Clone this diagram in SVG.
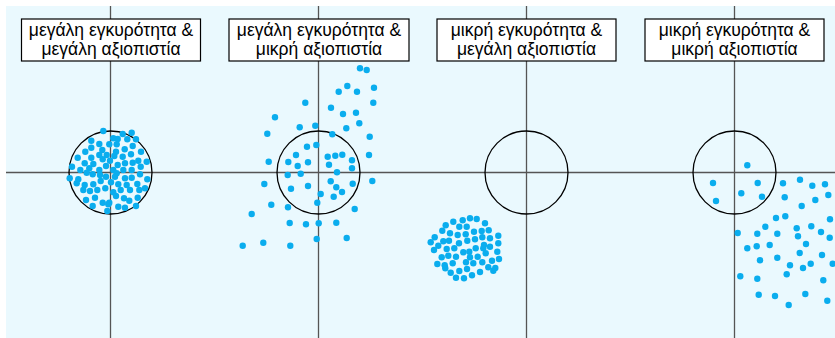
<svg xmlns="http://www.w3.org/2000/svg" xmlns:xlink="http://www.w3.org/1999/xlink" width="835" height="338" viewBox="0 0 835 338">
<style>
.bg{fill:#EAF9FE}
.ax{stroke:#555;stroke-width:1.3;fill:none}
.ring{stroke:#000;stroke-width:1.3;fill:none}
.box{fill:#fff;stroke:#000;stroke-width:1.2}
.lbl{font-family:"Liberation Sans",Arial,sans-serif;font-size:17.5px;fill:#000;text-anchor:middle}
.dots use{fill:#0AADEE}
</style>
<defs><circle id="p" r="3.2"/></defs>
<rect class="bg" x="6" y="6" width="829" height="332"/>
<g id="connectors">
<line class="ax" x1="6" y1="172.5" x2="835" y2="172.5"/>
<line class="ax" x1="110.5" y1="6" x2="110.5" y2="338"/>
<line class="ax" x1="318.5" y1="6" x2="318.5" y2="338"/>
<line class="ax" x1="526.5" y1="6" x2="526.5" y2="338"/>
<line class="ax" x1="734.5" y1="6" x2="734.5" y2="338"/>
</g>
<g id="panel1">
<circle class="ring" cx="110.5" cy="172.5" r="41.5"/>
<g class="dots">
<use href="#p" x="103.3" y="131"/><use href="#p" x="113.3" y="138.3"/><use href="#p" x="117.7" y="139"/><use href="#p" x="122.7" y="134"/><use href="#p" x="131.7" y="132.7"/>
<use href="#p" x="91.3" y="140.7"/><use href="#p" x="99.3" y="144"/><use href="#p" x="109.3" y="144.3"/><use href="#p" x="116.7" y="144.3"/><use href="#p" x="127.3" y="139.3"/><use href="#p" x="136" y="139.3"/>
<use href="#p" x="85.3" y="151.7"/><use href="#p" x="91.3" y="147.7"/><use href="#p" x="102.3" y="150"/><use href="#p" x="116" y="151.7"/><use href="#p" x="124.7" y="149.3"/><use href="#p" x="132.7" y="146"/><use href="#p" x="141" y="151.7"/>
<use href="#p" x="77.7" y="157.7"/><use href="#p" x="99.3" y="155"/><use href="#p" x="106.7" y="155"/><use href="#p" x="114.3" y="156"/><use href="#p" x="122.7" y="156.7"/><use href="#p" x="131" y="154.3"/><use href="#p" x="138.3" y="160.7"/><use href="#p" x="146.7" y="161.7"/>
<use href="#p" x="84.7" y="163.3"/><use href="#p" x="91.3" y="157.7"/><use href="#p" x="93.3" y="164"/><use href="#p" x="102.7" y="159.3"/><use href="#p" x="110" y="160.7"/><use href="#p" x="117.7" y="165"/><use href="#p" x="125" y="163.3"/><use href="#p" x="132.7" y="162.7"/>
<use href="#p" x="72" y="166.7"/><use href="#p" x="80.3" y="170"/><use href="#p" x="89.3" y="168.3"/><use href="#p" x="99.3" y="170"/><use href="#p" x="106" y="166"/><use href="#p" x="113.3" y="170"/><use href="#p" x="116.7" y="173.3"/><use href="#p" x="123.3" y="170"/><use href="#p" x="131.7" y="170"/><use href="#p" x="140.7" y="166.7"/>
<use href="#p" x="69.7" y="178.3"/><use href="#p" x="78.3" y="179.3"/><use href="#p" x="86.7" y="172.7"/><use href="#p" x="92.7" y="174.3"/><use href="#p" x="100" y="175"/><use href="#p" x="106" y="176.7"/><use href="#p" x="115" y="176.7"/><use href="#p" x="125" y="178.3"/><use href="#p" x="131.7" y="177.7"/><use href="#p" x="140" y="174.3"/><use href="#p" x="147.3" y="179.3"/>
<use href="#p" x="76.7" y="183.3"/><use href="#p" x="84.7" y="185"/><use href="#p" x="93.3" y="184.3"/><use href="#p" x="100.7" y="181"/><use href="#p" x="111" y="182.3"/><use href="#p" x="118.3" y="184.3"/><use href="#p" x="126.7" y="185"/><use href="#p" x="137.3" y="184"/>
<use href="#p" x="83.3" y="190"/><use href="#p" x="90" y="191"/><use href="#p" x="97.3" y="190"/><use href="#p" x="105.3" y="188.3"/><use href="#p" x="113.3" y="192.3"/><use href="#p" x="120.7" y="190"/><use href="#p" x="130" y="190"/><use href="#p" x="139.3" y="190"/><use href="#p" x="145" y="188.3"/>
<use href="#p" x="86" y="200"/><use href="#p" x="95" y="197.7"/><use href="#p" x="102.7" y="202.7"/><use href="#p" x="109.3" y="202.7"/><use href="#p" x="116" y="196"/><use href="#p" x="124" y="198.3"/><use href="#p" x="129.3" y="200.7"/><use href="#p" x="137.7" y="197.7"/>
<use href="#p" x="92.7" y="206"/><use href="#p" x="108.3" y="204.3"/><use href="#p" x="118.3" y="206.7"/><use href="#p" x="125" y="207.7"/><use href="#p" x="136" y="206"/><use href="#p" x="107.3" y="211"/>
</g>
<rect class="box" x="21.5" y="19" width="179" height="42"/>
<text class="lbl" x="111" y="35.5">μεγάλη εγκυρότητα &amp;</text>
<text class="lbl" x="111" y="54.5">μεγάλη αξιοπιστία</text>
</g>
<g id="panel2">
<circle class="ring" cx="318.5" cy="172.5" r="41.5"/>
<g class="dots">
<use href="#p" x="360" y="68.3"/><use href="#p" x="366.7" y="70"/><use href="#p" x="347.3" y="86"/><use href="#p" x="338.7" y="91.7"/><use href="#p" x="357" y="91.7"/><use href="#p" x="374" y="87.7"/>
<use href="#p" x="373.3" y="102.7"/><use href="#p" x="305.3" y="102.7"/><use href="#p" x="331" y="107.7"/><use href="#p" x="343" y="114"/><use href="#p" x="356" y="112.7"/><use href="#p" x="275" y="117.3"/>
<use href="#p" x="359.3" y="123.3"/><use href="#p" x="299.7" y="127.3"/><use href="#p" x="315.3" y="125.7"/><use href="#p" x="346.3" y="128.3"/><use href="#p" x="267.3" y="133.7"/><use href="#p" x="332.3" y="134.3"/><use href="#p" x="369.7" y="136.7"/>
<use href="#p" x="307" y="146.7"/><use href="#p" x="316.3" y="145"/><use href="#p" x="296" y="155"/><use href="#p" x="327.7" y="156.7"/><use href="#p" x="335.3" y="155.7"/><use href="#p" x="342.3" y="154.7"/><use href="#p" x="369" y="155"/>
<use href="#p" x="268.7" y="161.7"/><use href="#p" x="288.3" y="162"/><use href="#p" x="308" y="162.3"/><use href="#p" x="297.7" y="166"/><use href="#p" x="329" y="164.7"/><use href="#p" x="352" y="160.3"/><use href="#p" x="352" y="168.3"/>
<use href="#p" x="287.7" y="175"/><use href="#p" x="300.7" y="173.7"/><use href="#p" x="337" y="172.3"/><use href="#p" x="264.3" y="184"/><use href="#p" x="291" y="188.7"/><use href="#p" x="308" y="186"/><use href="#p" x="330.7" y="181.3"/><use href="#p" x="336.3" y="187.3"/><use href="#p" x="352.7" y="183.7"/><use href="#p" x="372.3" y="181"/>
<use href="#p" x="320.7" y="194"/><use href="#p" x="333.7" y="196.7"/><use href="#p" x="342" y="192"/><use href="#p" x="271.3" y="204.7"/><use href="#p" x="288" y="207.3"/><use href="#p" x="317.3" y="202.7"/><use href="#p" x="354.7" y="209"/>
<use href="#p" x="251.7" y="214"/><use href="#p" x="289.7" y="223"/><use href="#p" x="306" y="224.3"/><use href="#p" x="318.7" y="223.3"/><use href="#p" x="336.3" y="222.7"/>
<use href="#p" x="242.7" y="245.7"/><use href="#p" x="263.3" y="242.7"/><use href="#p" x="290.3" y="245.7"/><use href="#p" x="316.7" y="239"/><use href="#p" x="346.7" y="238"/>
</g>
<rect class="box" x="229" y="19" width="180" height="42"/>
<text class="lbl" x="319" y="35.5">μεγάλη εγκυρότητα &amp;</text>
<text class="lbl" x="319" y="54.5">μικρή αξιοπιστία</text>
</g>
<g id="panel3">
<circle class="ring" cx="526.5" cy="172.5" r="41.5"/>
<g class="dots">
<use href="#p" x="470" y="218.3"/><use href="#p" x="476.7" y="219"/><use href="#p" x="462.7" y="220.3"/><use href="#p" x="453.3" y="221.7"/><use href="#p" x="445.7" y="225.3"/><use href="#p" x="485" y="223.3"/><use href="#p" x="459.3" y="226.7"/><use href="#p" x="466.7" y="226.7"/>
<use href="#p" x="442.3" y="230.7"/><use href="#p" x="474" y="231.7"/><use href="#p" x="481.7" y="231"/><use href="#p" x="488.7" y="230.3"/><use href="#p" x="450" y="233.3"/><use href="#p" x="457.7" y="235"/><use href="#p" x="465.7" y="234.3"/><use href="#p" x="482.3" y="237.3"/><use href="#p" x="490" y="238.3"/><use href="#p" x="498.3" y="235.7"/>
<use href="#p" x="434.7" y="237.3"/><use href="#p" x="430.7" y="242.3"/><use href="#p" x="438.3" y="245.7"/><use href="#p" x="443.3" y="241.3"/><use href="#p" x="449" y="240.7"/><use href="#p" x="459" y="243.3"/><use href="#p" x="467.3" y="240.7"/><use href="#p" x="475" y="239.3"/><use href="#p" x="484" y="245"/><use href="#p" x="490" y="246.7"/><use href="#p" x="498.3" y="243.3"/>
<use href="#p" x="434" y="250"/><use href="#p" x="446.7" y="249"/><use href="#p" x="454.3" y="248.3"/><use href="#p" x="475.7" y="248.3"/><use href="#p" x="483.3" y="248.3"/><use href="#p" x="463.3" y="252.3"/><use href="#p" x="469.3" y="251.7"/><use href="#p" x="485.7" y="253.3"/><use href="#p" x="497.3" y="251.7"/>
<use href="#p" x="441.7" y="257.3"/><use href="#p" x="448.3" y="255.7"/><use href="#p" x="456" y="256.7"/><use href="#p" x="470" y="257.3"/><use href="#p" x="477.7" y="256.7"/><use href="#p" x="492" y="260.7"/><use href="#p" x="499" y="259"/>
<use href="#p" x="437.3" y="264"/><use href="#p" x="444.7" y="265.3"/><use href="#p" x="452.7" y="263.3"/><use href="#p" x="466" y="262.3"/><use href="#p" x="473.3" y="263.3"/><use href="#p" x="482.3" y="262.3"/>
<use href="#p" x="445.3" y="268.3"/><use href="#p" x="459.3" y="271"/><use href="#p" x="467" y="269"/><use href="#p" x="488.3" y="267.3"/><use href="#p" x="495.3" y="268"/><use href="#p" x="493.3" y="270.7"/>
<use href="#p" x="450.7" y="272.7"/><use href="#p" x="472" y="275.3"/><use href="#p" x="480" y="272"/><use href="#p" x="456" y="277.7"/><use href="#p" x="464" y="278.3"/>
</g>
<rect class="box" x="437" y="19" width="179" height="42"/>
<text class="lbl" x="526.5" y="35.5">μικρή εγκυρότητα &amp;</text>
<text class="lbl" x="526.5" y="54.5">μεγάλη αξιοπιστία</text>
</g>
<g id="panel4">
<circle class="ring" cx="734.5" cy="172.5" r="41.5"/>
<g class="dots">
<use href="#p" x="747.3" y="165.3"/><use href="#p" x="713" y="183"/><use href="#p" x="757.7" y="183"/><use href="#p" x="716" y="201"/><use href="#p" x="741.3" y="193.3"/><use href="#p" x="762" y="196.7"/>
<use href="#p" x="783" y="183.3"/><use href="#p" x="800" y="179.7"/><use href="#p" x="812.3" y="185.7"/><use href="#p" x="825" y="184.3"/><use href="#p" x="828.3" y="195"/><use href="#p" x="784.7" y="197.3"/><use href="#p" x="815.3" y="200"/><use href="#p" x="801.7" y="206"/>
<use href="#p" x="776" y="218"/><use href="#p" x="785.3" y="216.3"/><use href="#p" x="830" y="219.3"/><use href="#p" x="765.3" y="226.7"/><use href="#p" x="737.7" y="233"/><use href="#p" x="757.3" y="233.7"/><use href="#p" x="777.3" y="233.7"/><use href="#p" x="796.7" y="228.3"/><use href="#p" x="811.3" y="226.3"/><use href="#p" x="821" y="232"/><use href="#p" x="798" y="236.3"/><use href="#p" x="829.7" y="237.7"/>
<use href="#p" x="747.3" y="248.3"/><use href="#p" x="756.7" y="246.3"/><use href="#p" x="769.7" y="245"/><use href="#p" x="806" y="244"/><use href="#p" x="799.7" y="253"/><use href="#p" x="822" y="255"/>
<use href="#p" x="760" y="260.3"/><use href="#p" x="777.3" y="257.7"/><use href="#p" x="790" y="265.3"/><use href="#p" x="803" y="268"/><use href="#p" x="810.7" y="263.7"/><use href="#p" x="832.7" y="263.7"/>
<use href="#p" x="740.3" y="276.3"/><use href="#p" x="757.3" y="278.7"/><use href="#p" x="786.7" y="274.3"/><use href="#p" x="823.3" y="280.3"/>
<use href="#p" x="758.7" y="294.7"/><use href="#p" x="775" y="296"/><use href="#p" x="805.3" y="294"/><use href="#p" x="788.7" y="305"/><use href="#p" x="827.3" y="300.7"/>
</g>
<rect class="box" x="645" y="19" width="179" height="42"/>
<text class="lbl" x="734.5" y="35.5">μικρή εγκυρότητα &amp;</text>
<text class="lbl" x="734.5" y="54.5">μικρή αξιοπιστία</text>
</g>
</svg>
